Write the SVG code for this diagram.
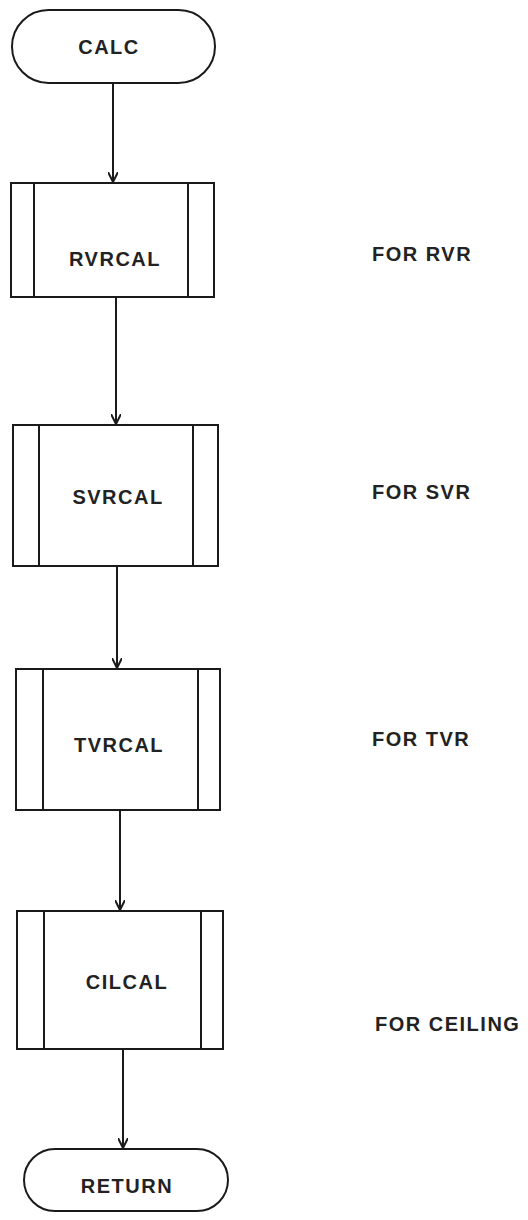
<svg xmlns="http://www.w3.org/2000/svg" width="528" height="1220" viewBox="0 0 528 1220">
<style>
.s{fill:#fff;stroke:#1a1a1a;stroke-width:2}
.l{fill:none;stroke:#1a1a1a;stroke-width:2}
.t{font-family:"Liberation Sans",Arial,sans-serif;font-size:20px;font-weight:bold;letter-spacing:1.5px;fill:#222;text-anchor:middle}
.n{font-family:"Liberation Sans",Arial,sans-serif;font-size:20px;font-weight:bold;letter-spacing:1.5px;fill:#222}
</style>
<defs>
<marker id="ah" viewBox="0 0 10 10" refX="10" refY="5" markerWidth="10" markerHeight="10" markerUnits="userSpaceOnUse" orient="auto">
<path d="M0,0 L10,5 L0,10" fill="none" stroke="#1a1a1a" stroke-width="2"/>
</marker>
</defs>
<rect width="528" height="1220" fill="#fff"/>
<g id="connectors">
<line class="l" x1="113" y1="83" x2="113" y2="182" marker-end="url(#ah)"/>
<line class="l" x1="116" y1="297" x2="116" y2="424" marker-end="url(#ah)"/>
<line class="l" x1="117" y1="566" x2="117" y2="668" marker-end="url(#ah)"/>
<line class="l" x1="120" y1="810" x2="120" y2="910" marker-end="url(#ah)"/>
<line class="l" x1="123" y1="1049" x2="123" y2="1148" marker-end="url(#ah)"/>
</g>
<g id="calc">
<rect class="s" x="12" y="10" width="203" height="73" rx="36.5"/>
<text class="t" x="109" y="54">CALC</text>
</g>
<g id="rvrcal">
<rect class="s" x="11" y="183" width="203" height="114"/>
<line class="l" x1="34" y1="183" x2="34" y2="297"/>
<line class="l" x1="188" y1="183" x2="188" y2="297"/>
<text class="t" x="115" y="266">RVRCAL</text>
</g>
<g id="svrcal">
<rect class="s" x="13" y="425" width="205" height="141"/>
<line class="l" x1="39" y1="425" x2="39" y2="566"/>
<line class="l" x1="193" y1="425" x2="193" y2="566"/>
<text class="t" x="118" y="504">SVRCAL</text>
</g>
<g id="tvrcal">
<rect class="s" x="16" y="669" width="204" height="141"/>
<line class="l" x1="43" y1="669" x2="43" y2="810"/>
<line class="l" x1="198" y1="669" x2="198" y2="810"/>
<text class="t" x="119" y="752">TVRCAL</text>
</g>
<g id="cilcal">
<rect class="s" x="17" y="911" width="206" height="138"/>
<line class="l" x1="44" y1="911" x2="44" y2="1049"/>
<line class="l" x1="201" y1="911" x2="201" y2="1049"/>
<text class="t" x="127" y="989">CILCAL</text>
</g>
<g id="return">
<rect class="s" x="24" y="1149" width="204" height="62" rx="31"/>
<text class="t" x="127" y="1193">RETURN</text>
</g>
<g id="notes">
<text class="n" x="372" y="261">FOR RVR</text>
<text class="n" x="372" y="499">FOR SVR</text>
<text class="n" x="372" y="746">FOR TVR</text>
<text class="n" x="375" y="1031">FOR CEILING</text>
</g>
</svg>
